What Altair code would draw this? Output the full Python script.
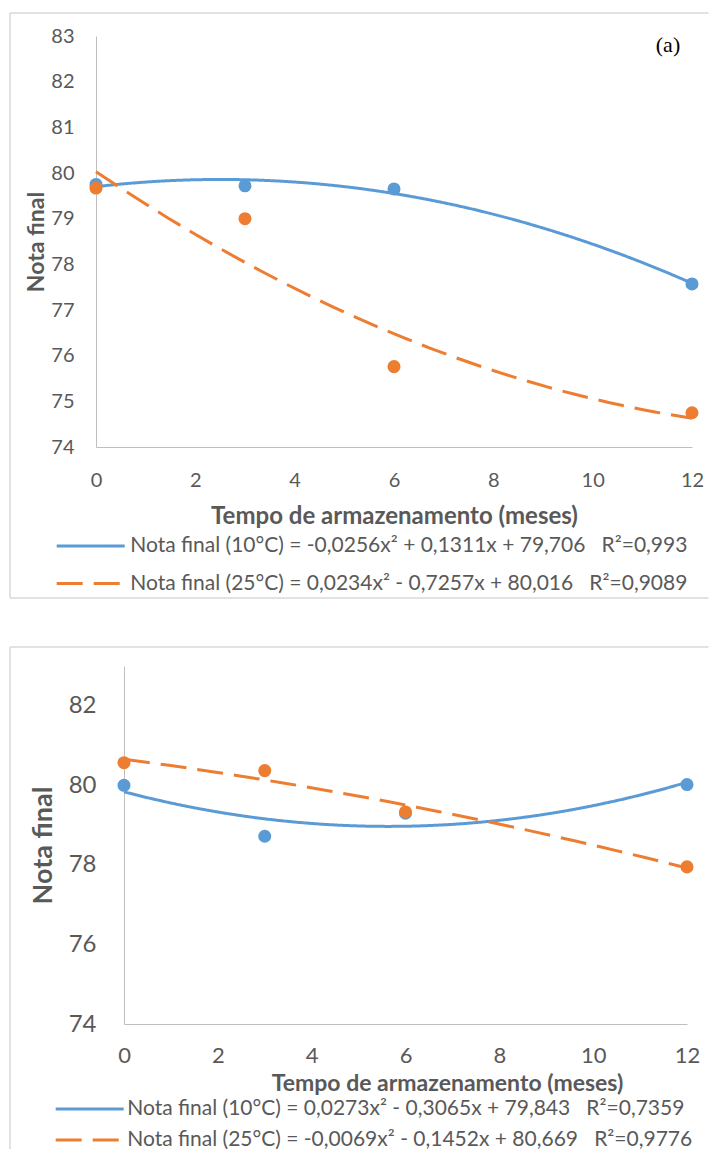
import altair as alt
import pandas as pd

# ---------------- data ----------------
months = [0, 3, 6, 12]

# panel (a)
a_10 = [79.75, 79.72, 79.65, 77.57]
a_25 = [79.67, 79.00, 75.76, 74.75]
# panel (b)
b_10 = [80.00, 78.72, 79.30, 80.02]
b_25 = [80.57, 80.37, 79.33, 77.95]

NB = "\u00a0\u00a0\u00a0"
labels_a = [
    "Nota final (10°C) = -0,0256x² + 0,1311x + 79,706" + NB + "R²=0,993",
    "Nota final (25°C) = 0,0234x² - 0,7257x + 80,016" + NB + "R²=0,9089",
]
labels_b = [
    "Nota final (10°C) = 0,0273x² - 0,3065x + 79,843" + NB + "R²=0,7359",
    "Nota final (25°C) = -0,0069x² - 0,1452x + 80,669" + NB + "R²=0,9776",
]

x_ticks = [0, 2, 4, 6, 8, 10, 12]
y_ticks_a = [74, 75, 76, 77, 78, 79, 80, 81, 82, 83]
y_ticks_b = [74, 76, 78, 80, 82]

x_title = "Tempo de armazenamento (meses)"
y_title = "Nota final"

COLORS = ["#5B9BD5", "#ED7D31"]
DASHES = [[1, 0], [26, 11]]
GREY = "#595959"
FRAME = "#D9D9D9"
FONT = "Lato"


def make_df(v10, v25, labels):
    rows = []
    for lab, vals in zip(labels, [v10, v25]):
        for m, v in zip(months, vals):
            rows.append({"mes": m, "nota": v, "serie": lab})
    return pd.DataFrame(rows)


def panel(df, labels, width, height, xrange, yticks, xtick_fs, ytick_fs, xlab_pad, ylab_pad,
          yoffset, ytitle_fs, ytitle_x, xtitle_fs, xtitle_x, xtitle_y,
          leg_x, leg_y, leg_off, leg_rowpad, frame, tag=None):
    xscale = alt.Scale(domain=[0, 12], range=xrange, nice=False, zero=False)
    yscale = alt.Scale(domain=[74, 83], nice=False, zero=False)
    xaxis = alt.Axis(values=x_ticks, ticks=False, grid=False, domainColor="#BFBFBF",
                     domainWidth=1, labelFontSize=xtick_fs, labelColor=GREY,
                     labelPadding=xlab_pad, labelFont=FONT, labelFlush=False,
                     title=x_title,
                     titleFont=FONT, titleFontSize=xtitle_fs, titleFontWeight="bold",
                     titleColor=GREY, titleX=xtitle_x, titleY=xtitle_y,
                     titleBaseline="middle")
    yaxis = alt.Axis(values=yticks, ticks=False, grid=False, domainColor="#BFBFBF",
                     domainWidth=1, labelFontSize=ytick_fs, labelColor=GREY,
                     labelPadding=ylab_pad, labelFont=FONT, labelFlush=False,
                     title=y_title,
                     titleFont=FONT, titleFontSize=ytitle_fs, titleFontWeight="bold",
                     titleColor=GREY, titleX=ytitle_x, titleY=height / 2,
                     offset=yoffset)
    X = alt.X("mes:Q", scale=xscale, axis=xaxis)
    Y = alt.Y("nota:Q", scale=yscale, axis=yaxis)

    legend = alt.Legend(title=None, orient="none", legendX=leg_x, legendY=leg_y,
                        direction="vertical", symbolType="M-3,0H3", symbolSize=514,
                        symbolStrokeWidth=3, labelFont=FONT, labelFontSize=21,
                        labelColor=GREY, labelLimit=900, labelOffset=leg_off,
                        rowPadding=leg_rowpad, padding=0)

    lines = alt.Chart(df).transform_regression(
        "mes", "nota", groupby=["serie"], method="poly", order=2
    ).mark_line(strokeWidth=3).encode(
        x=X, y=Y,
        stroke=alt.Stroke("serie:N", scale=alt.Scale(domain=labels, range=COLORS),
                          legend=legend, sort=labels),
        strokeDash=alt.StrokeDash("serie:N", scale=alt.Scale(domain=labels, range=DASHES),
                                  legend=legend, sort=labels),
    )
    points = alt.Chart(df).mark_circle(size=170, opacity=1).encode(
        x=X, y=Y,
        fill=alt.Fill("serie:N", scale=alt.Scale(domain=labels, range=COLORS), legend=None),
    )

    fx1, fx2, fy1, fy2 = frame
    one = alt.Data(values=[{}])
    top = alt.Chart(one).mark_rule(color=FRAME, strokeWidth=1.5).encode(
        x=alt.value(fx1), x2=alt.value(fx2), y=alt.value(fy1))
    left = alt.Chart(one).mark_rule(color=FRAME, strokeWidth=1.5).encode(
        x=alt.value(fx1), y=alt.value(fy1), y2=alt.value(fy2))
    layers = [top, left]
    if tag is not None:
        bottom = alt.Chart(one).mark_rule(color=FRAME, strokeWidth=1.5).encode(
            x=alt.value(fx1), x2=alt.value(fx2), y=alt.value(fy2))
        layers.append(bottom)
    layers += [lines, points]
    if tag is not None:
        txt = alt.Chart(one).mark_text(font="Liberation Serif", fontSize=22,
                                       color="black").encode(
            x=alt.value(tag[1]), y=alt.value(tag[2]), text=alt.value(tag[0]))
        layers.append(txt)
    return alt.layer(*layers).properties(width=width, height=height)


df_a = make_df(a_10, a_25, labels_a)
df_b = make_df(b_10, b_25, labels_b)

p1 = panel(df_a, labels_a, 596, 411, [0, 596], y_ticks_a, 20, 20, 23, 22, 0, 23, -48,
           24, 298, 69.5, -18.3, 497, 26.6, 14.5, (-86, 612.5, -23, 562),
           tag=("(a)", 572, 9))
p2 = panel(df_b, labels_b, 591, 358, [28, 591], y_ticks_b, 22, 24, 21, 28, -28, 27, -66.6,
           23, 351, 59, -19.3, 430, 24.6, 8.0, (-86, 612.5, -19, 483))

chart = alt.vconcat(p1, p2, spacing=47).resolve_scale(
    stroke="independent", strokeDash="independent", fill="independent",
    x="independent", y="independent",
).resolve_legend(
    stroke="independent", strokeDash="independent", fill="independent",
).properties(
    padding={"left": 9, "top": 12, "right": 0, "bottom": 0},
    background="white",
).configure_view(stroke=None)

chart.save("out.html", embed_options={"renderer": "svg", "actions": False})
